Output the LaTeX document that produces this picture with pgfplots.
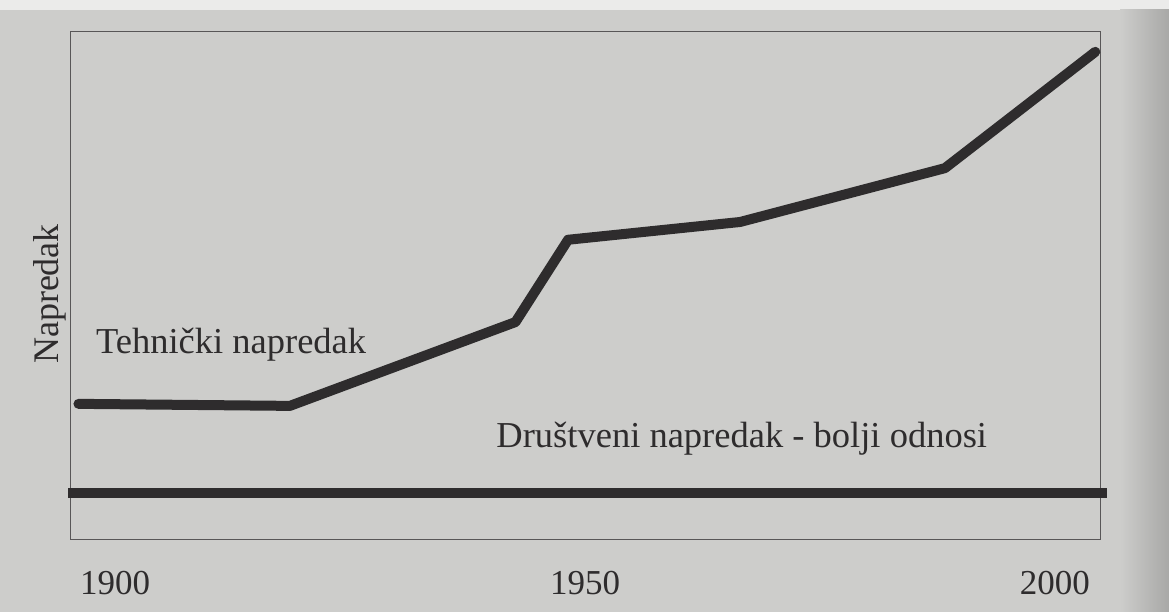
\documentclass[border=0pt]{standalone}
\usepackage{pgfplots}
\pgfplotsset{compat=1.18}
\usepackage{fontspec}
\setmainfont{Liberation Serif}
\definecolor{paper}{HTML}{CDCDCB}
\definecolor{ink}{HTML}{2E2C2D}
\begin{document}
\begin{tikzpicture}[x=1pt,y=1pt]
\fill[paper] (0,0) rectangle (1169,612);
\fill[white!60!paper] (0,602) rectangle (1169,612);
\shade[left color=paper, right color=paper!82!black] (1120,0) rectangle (1169,602);
\begin{axis}[
  at={(70pt,72pt)}, anchor=south west,
  scale only axis, width=1030pt, height=508pt,
  xmin=1895.2, xmax=2004.8, ymin=0, ymax=100,
  axis line style={draw=ink!80, line width=1pt},
  xtick={1900,1950,2000}, ytick=\empty,
  major tick length=0pt,
  xticklabel style={font=\fontsize{35}{40}\selectfont, text=ink, yshift=-28pt},
  /pgf/number format/assume math mode=true,
  /pgf/number format/1000 sep={},
  ylabel={\fontsize{36}{40}\selectfont Napredak},
  ylabel style={text=ink, at={(axis description cs:0,0.5)}, xshift=-8pt},
  clip=false,
]
\addplot[ink, line width=10pt, line join=round, line cap=round] coordinates {
  (1896.1,26.8) (1918.6,26.4) (1942.6,42.9) (1948.2,59.1) (1966.5,62.6) (1988.3,73.2) (2004.3,96.1)
};
\addplot[ink, line width=10pt] coordinates {(1895.0,9.3) (2005.5,9.3)};
\node[anchor=west, text=ink, font=\fontsize{36.5}{40}\selectfont] at (axis cs:1897.6,38.4) {Tehnički napredak};
\node[anchor=west, text=ink, font=\fontsize{36.5}{40}\selectfont] at (axis cs:1940.2,19.9) {Društveni napredak - bolji odnosi};
\end{axis}
\end{tikzpicture}
\end{document}
